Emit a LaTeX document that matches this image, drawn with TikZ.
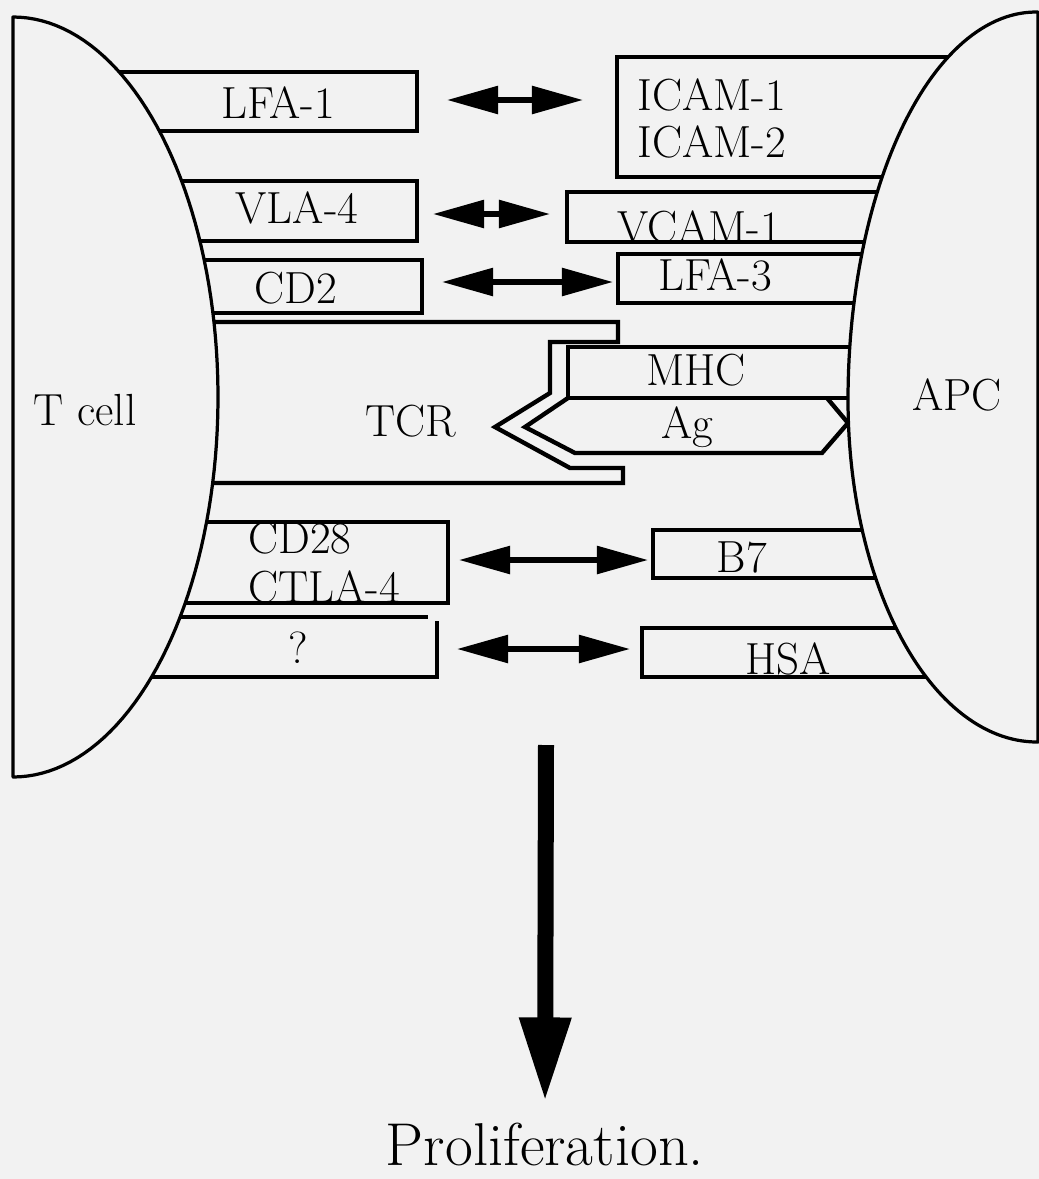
\documentclass[tikz,border=0pt]{standalone}
\usepackage{tikz}
\usetikzlibrary{arrows.meta}

\definecolor{paper}{RGB}{242,242,242}
\tikzset{
  cell/.style={line width=2.3pt, fill=paper, line join=round},
  mol/.style={line width=3.1pt},
  lbl/.style={anchor=base, inner sep=0pt, font=\fontsize{32}{36}\selectfont},
  link/.style={line width=3.8pt, {Triangle[length=1.28cm,width=0.68cm]}-{Triangle[length=1.28cm,width=0.68cm]}},
  growth/.style={line width=0.4cm, -{Triangle[length=2.12cm,width=1.2cm]}, shorten >=0.5cm},
}

\begin{document}
\begin{tikzpicture}[x=0.025cm, y=-0.025cm]
    \fill[paper] (0,0) rectangle (1039,1179);
    \useasboundingbox (0,0) rectangle (1039,1179);

    % T cell side molecules
    \draw[mol] (40,72) -- (417,72) -- (417,131) -- (40,131);
    \draw[mol] (40,181) -- (417,181) -- (417,241) -- (40,241);
    \draw[mol] (40,260) -- (422,260) -- (422,313) -- (40,313);
    \draw[mol] (40,322) -- (618,322) -- (618,342) -- (550,342) -- (550,393) -- (495,427)
        -- (570,468) -- (623,468) -- (623,483) -- (40,483);
    \draw[mol] (40,522) -- (448,522) -- (448,603) -- (40,603);
    \draw[mol] (40,617) -- (428,617);
    \draw[mol] (437,621) -- (437,677) -- (40,677);

    % APC side molecules
    \draw[mol] (1000,57) -- (617,57) -- (617,177) -- (1000,177);
    \draw[mol] (1000,192) -- (567,192) -- (567,242) -- (1000,242);
    \draw[mol] (1000,254) -- (618,254) -- (618,303) -- (1000,303);
    \draw[mol] (1000,347) -- (568,347) -- (568,398) -- (1000,398);
    \draw[mol] (568,398) -- (525,427) -- (575,453) -- (822,453) -- (848,423) -- (827,398);
    \draw[mol] (1000,530) -- (653,530) -- (653,578) -- (1000,578);
    \draw[mol] (1000,628) -- (642,628) -- (642,677) -- (1000,677);

    % the two cells
    \draw[cell] (13,777) -- plot[domain=90:-90,samples=90] ({13+205*cos(\x)},{397-380*sin(\x)}) -- cycle;
    \draw[cell] (1038,742) -- (1038,12)
        -- plot[domain=90:180,samples=60] ({1036+188*cos(\x)},{400-388*sin(\x)})
        -- plot[domain=180:270,samples=60] ({1037+189*cos(\x)},{400-342*sin(\x)}) -- cycle;

    % labels
    \node[lbl] (tcell) at (85,425) {T cell};
    \node[lbl] (apc) at (957,410) {APC};
    \node[lbl] (lfa1) at (278,118) {LFA-1};
    \node[lbl] (vla4) at (297,223) {VLA-4};
    \node[lbl] (cd2) at (296,303) {CD2};
    \node[lbl] (tcr) at (411,436) {TCR};
    \node[lbl, anchor=base west] (cd28) at (248,553) {CD28};
    \node[lbl, anchor=base west] (ctla4) at (248,602) {CTLA-4};
    \node[lbl] (unknown) at (298,663) {?};
    \node[lbl, anchor=base west] (icam1) at (637,110) {ICAM-1};
    \node[lbl, anchor=base west] (icam2) at (637,157) {ICAM-2};
    \node[lbl] (vcam1) at (699,242) {VCAM-1};
    \node[lbl] (lfa3) at (715,290) {LFA-3};
    \node[lbl] (mhc) at (696,385) {MHC};
    \node[lbl] (ag) at (687,438) {Ag};
    \node[lbl] (b7) at (742,572) {B7};
    \node[lbl] (hsa) at (788,674) {HSA};
    \node[lbl, font=\fontsize{43}{48}\selectfont] (prolif) at (545,1165) {Proliferation.};

    % binding pairs
    \coordinate (lfa1-e) at (447,100);  \coordinate (icam-w) at (583,100);
    \coordinate (vla4-e) at (433,214);  \coordinate (vcam-w) at (550,214);
    \coordinate (cd2-e) at (442,282);   \coordinate (lfa3-w) at (613,282);
    \coordinate (cd28-e) at (459,560);  \coordinate (b7-w) at (648,560);
    \coordinate (unk-e) at (457,649);   \coordinate (hsa-w) at (630,649);
    \draw[link] (lfa1-e) -- (icam-w);
    \draw[link] (vla4-e) -- (vcam-w);
    \draw[link] (cd2-e) -- (lfa3-w);
    \draw[link] (cd28-e) -- (b7-w);
    \draw[link] (unk-e) -- (hsa-w);

    % outcome
    \coordinate (signal) at (546,745);
    \draw[growth] (signal) -- (prolif.north);
\end{tikzpicture}
\end{document}
